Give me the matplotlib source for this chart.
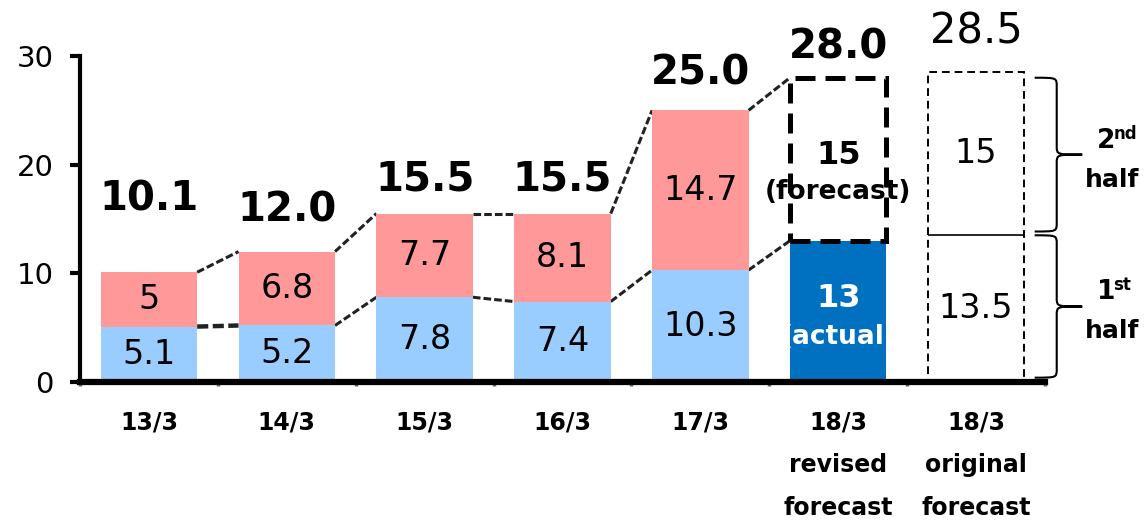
import matplotlib
matplotlib.use('Agg')
import matplotlib.pyplot as plt
from matplotlib.path import Path
from matplotlib.patches import PathPatch

# ---------------- data ----------------
categories = ['13/3', '14/3', '15/3', '16/3', '17/3',
              '18/3\nrevised\nforecast', '18/3\noriginal\nforecast']
first_half = [5.1, 5.2, 7.8, 7.4, 10.3, 13.0, 13.5]
second_half = [5.0, 6.8, 7.7, 8.1, 14.7, 15.0, 15.0]
totals = [10.1, 12.0, 15.5, 15.5, 25.0, 28.0, 28.5]
first_labels = ['5.1', '5.2', '7.8', '7.4', '10.3', '13', '13.5']
second_labels = ['5', '6.8', '7.7', '8.1', '14.7', '15', '15']
total_labels = ['10.1', '12.0', '15.5', '15.5', '25.0', '28.0', '28.5']
yticks = [0, 10, 20, 30]

# ---------------- style ----------------
PINK = '#FF9999'
LBLUE = '#99CCFF'
DBLUE = '#0070C0'
W = 0.70
n_act = 5
x = list(range(len(categories)))

fig = plt.figure(figsize=(11.44, 5.2), dpi=100)
ax = fig.add_axes([80 / 1144, (520 - 382) / 520, (1045 - 80) / 1144, (382 - 56) / 520])
ax.set_xlim(-0.5, 6.5)
ax.set_ylim(0, 30)

# actual bars
ax.bar(x[:n_act], first_half[:n_act], W, color=LBLUE, zorder=2)
ax.bar(x[:n_act], second_half[:n_act], W, bottom=first_half[:n_act], color=PINK, zorder=2)

# revised forecast
ax.bar(x[5], first_half[5], W, color=DBLUE, zorder=2)
ax.bar(x[5], second_half[5], W, bottom=first_half[5], fill=False, edgecolor='black',
       linewidth=3.6, linestyle=(0, (4, 2)), zorder=3)

# original forecast
ax.bar(x[6], totals[6], W, fill=False, edgecolor='black', linewidth=1.4,
       linestyle=(0, (4, 2.5)), zorder=3)
ax.hlines(first_half[6], x[6] - W / 2, x[6] + W / 2, color='black', linewidth=1.2, zorder=3)

# connectors
for i in range(n_act):
    xs = [x[i] + W / 2, x[i + 1] - W / 2]
    lw = 3.2 if i == 0 else 2.2
    ax.plot(xs, [totals[i], totals[i + 1]], color='#222222', linewidth=2.2,
            linestyle=(0, (2.5, 1)), zorder=1)
    ax.plot(xs, [first_half[i], first_half[i + 1]], color='#222222', linewidth=lw,
            linestyle=(0, (2.5, 1)), zorder=1)

# in-bar labels
for i in range(n_act):
    ax.text(x[i], first_half[i] / 2, first_labels[i], ha='center', va='center',
            fontsize=24, color='black', zorder=4)
    ax.text(x[i], first_half[i] + second_half[i] / 2, second_labels[i], ha='center',
            va='center', fontsize=24, color='black', zorder=4)

# revised labels
bars_act = ax.patches[2 * n_act]
c1 = first_half[5] / 2
ax.annotate(first_labels[5], (x[5], c1), xytext=(0, 13), textcoords='offset pixels',
            ha='center', va='center', fontsize=23, fontweight='bold', color='white', zorder=4)
t2 = ax.annotate('(actual)', (x[5], c1), xytext=(0, -26), textcoords='offset pixels',
                 ha='center', va='center', fontsize=19, fontweight='bold', color='white', zorder=4)
t2.set_clip_path(bars_act)
c2 = first_half[5] + second_half[5] / 2
ax.annotate(second_labels[5], (x[5], c2), xytext=(0, 4), textcoords='offset pixels',
            ha='center', va='center', fontsize=23, fontweight='bold', color='black', zorder=4)
ax.annotate('(forecast)', (x[5], c2), xytext=(0, -33), textcoords='offset pixels',
            ha='center', va='center', fontsize=19, fontweight='bold', color='black', zorder=4)

# original labels
ax.text(x[6], first_half[6] / 2, first_labels[6], ha='center', va='center', fontsize=24, zorder=4)
ax.text(x[6], first_half[6] + second_half[6] / 2, second_labels[6], ha='center', va='center',
        fontsize=24, zorder=4)

# totals
total_offsets = [73, 41, 34, 34, 37, 30, 41]
for i in range(len(x)):
    bold = i < 6
    ax.annotate(total_labels[i], (x[i], totals[i]), xytext=(0, total_offsets[i]),
                textcoords='offset pixels', ha='center', va='center',
                fontsize=29 if bold else 30,
                fontweight='bold' if bold else 'normal', color='black',
                annotation_clip=False, zorder=4)

# x category labels
xt = ax.get_xaxis_transform()
for i, lab in enumerate(categories):
    for j, line in enumerate(lab.split('\n')):
        ax.annotate(line, (x[i], 0), xycoords=xt, xytext=(0, -40 - 43 * j),
                    textcoords='offset pixels', ha='center', va='center',
                    fontsize=17, fontweight='bold', annotation_clip=False)

# braces
def brace(yt, yb, xv, x0, xtip, ry):
    ym = (yt + yb) / 2
    verts = [(x0, yt), (xv, yt), (xv, yt), (xv, yt - ry),
             (xv, ym + ry),
             (xv, ym), (xv, ym), (xtip, ym),
             (xv, ym), (xv, ym), (xv, ym - ry),
             (xv, yb + ry),
             (xv, yb), (xv, yb), (x0, yb)]
    codes = [Path.MOVETO, Path.CURVE4, Path.CURVE4, Path.CURVE4,
             Path.LINETO,
             Path.CURVE4, Path.CURVE4, Path.CURVE4,
             Path.CURVE4, Path.CURVE4, Path.CURVE4,
             Path.LINETO,
             Path.CURVE4, Path.CURVE4, Path.CURVE4]
    ax.add_patch(PathPatch(Path(verts, codes), fill=False, edgecolor='black',
                           linewidth=1.5, clip_on=False))
    return ym

bx = x[6]
ym2 = brace(totals[6] - 0.5, first_half[6] + 0.35, bx + 0.585, bx + 0.425, bx + 0.77, 0.8)
ym1 = brace(first_half[6], 0.4, bx + 0.585, bx + 0.425, bx + 0.77, 0.8)
for ym, num, suf in [(ym2, '2', 'nd'), (ym1, '1', 'st')]:
    ax.annotate(num, (bx + 0.99, ym), xytext=(-6, 14), textcoords='offset pixels',
                ha='center', va='center', fontsize=19, fontweight='bold', annotation_clip=False)
    ax.annotate(suf, (bx + 0.99, ym), xytext=(1, 21), textcoords='offset pixels',
                ha='left', va='center', fontsize=12, fontweight='bold', annotation_clip=False)
    ax.annotate('half', (bx + 0.99, ym), xytext=(0, -25), textcoords='offset pixels',
                ha='center', va='center', fontsize=18, fontweight='bold', annotation_clip=False)

# axes styling
for s in ['top', 'right']:
    ax.spines[s].set_visible(False)
ax.spines['left'].set_linewidth(3)
ax.spines['left'].set_bounds(0, 30)
ax.spines['bottom'].set_linewidth(4.5)
ax.set_yticks(yticks)
ax.set_yticklabels([str(v) for v in yticks], fontsize=21)
ax.tick_params(axis='y', direction='out', length=7, width=3, pad=12)
ax.set_xticks([v - 0.5 for v in x] + [x[-1] + 0.5])
ax.set_xticklabels([])
ax.tick_params(axis='x', direction='out', length=3, width=2.5, color='#666666')

fig.savefig('out.png', dpi=100)
